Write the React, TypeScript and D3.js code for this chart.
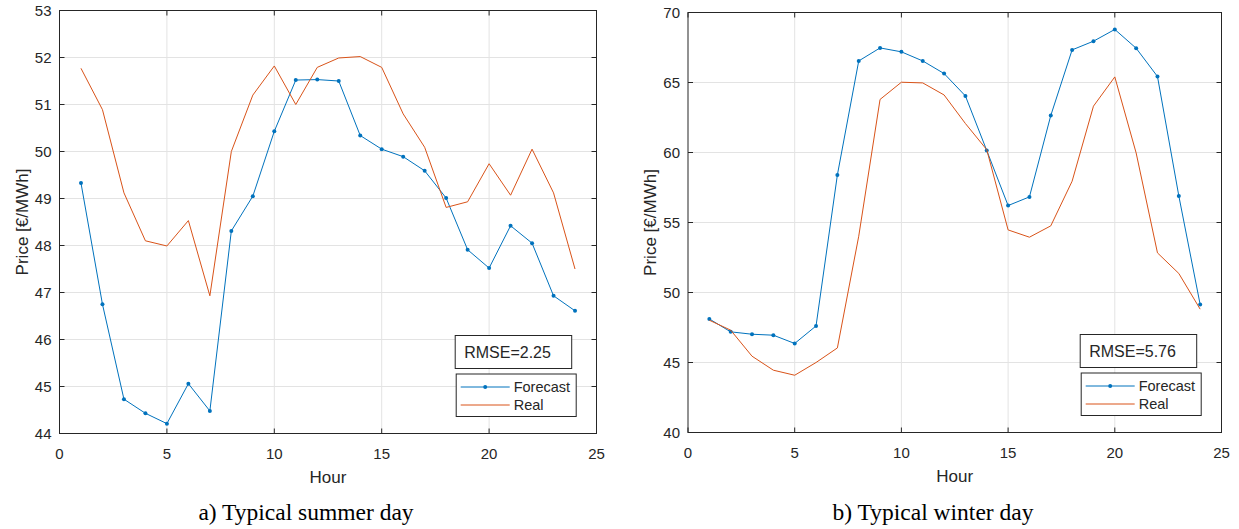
import React from "react";
import * as d3 from "d3";

const hours = d3.range(1, 25);

const summerForecast = [49.33, 46.75, 44.73, 44.43, 44.21, 45.06, 44.48, 48.31, 49.05, 50.43, 51.52, 51.53, 51.50, 50.34, 50.05, 49.89, 49.59, 49.01, 47.91, 47.52, 48.42, 48.05, 46.93, 46.61];
const summerReal = [51.77, 50.89, 49.12, 48.10, 47.99, 48.53, 46.93, 50.0, 51.20, 51.82, 51.0, 51.79, 51.99, 52.02, 51.79, 50.80, 50.09, 48.81, 48.93, 49.74, 49.07, 50.05, 49.12, 47.50];

const winterForecast = [48.11, 47.19, 47.02, 46.95, 46.36, 47.61, 58.4, 66.54, 67.47, 67.19, 66.54, 65.64, 64.04, 60.14, 56.21, 56.83, 62.64, 67.33, 67.95, 68.79, 67.45, 65.43, 56.90, 49.14];
const winterReal = [48.02, 47.31, 45.45, 44.45, 44.09, 45.0, 46.04, 54.02, 63.79, 65.02, 64.97, 64.11, 62.07, 60.2, 54.47, 53.95, 54.76, 57.95, 63.31, 65.40, 59.97, 52.83, 51.36, 48.81];

const xTicks = [0, 5, 10, 15, 20, 25];
const summerYTicks = [44, 45, 46, 47, 48, 49, 50, 51, 52, 53];
const winterYTicks = [40, 45, 50, 55, 60, 65, 70];

const seriesNames = ["Forecast", "Real"];
const captions = ["a) Typical summer day", "b) Typical winter day"];
const rmseLabels = ["RMSE=2.25", "RMSE=5.76"];

const BLUE = "#0072BD";
const ORANGE = "#D95319";
const AX = "#262626";
const GRID = "#e3e3e3";
const SANS = "'Liberation Sans', Arial, Helvetica, sans-serif";
const SERIF = "'Liberation Serif', 'Times New Roman', serif";

type PanelProps = {
  x0: number; x1: number; y0: number; y1: number;
  yDomain: [number, number]; yTicks: number[];
  forecast: number[]; real: number[];
  rmse: string; caption: string; captionX: number;
};

function Panel(p: PanelProps) {
  const x = d3.scaleLinear().domain([0, 25]).range([p.x0, p.x1]);
  const y = d3.scaleLinear().domain(p.yDomain).range([p.y1, p.y0]);
  const line = d3.line<number>().x((_, i) => x(hours[i])).y((v) => y(v));
  const tl = 5;
  const cx = (p.x0 + p.x1) / 2;
  const cy = (p.y0 + p.y1) / 2;
  // legend geometry relative to plot box
  const legR = p.x1 - 20.3;
  const legB = p.y1 - 17;
  const legW = 120;
  const legH = 42.5;
  const legL = legR - legW;
  const legT = legB - legH;
  const rmL = legL - 1;
  const rmW = 116.5;
  const rmB = legT - 5.5;
  const rmH = 33;
  const rmT = rmB - rmH;
  return (
    <g>
      {/* grid */}
      {xTicks.slice(1, -1).map((t) => (
        <line key={"gx" + t} x1={x(t)} x2={x(t)} y1={p.y0} y2={p.y1} stroke={GRID} strokeWidth={1} />
      ))}
      {p.yTicks.slice(1, -1).map((t) => (
        <line key={"gy" + t} x1={p.x0} x2={p.x1} y1={y(t)} y2={y(t)} stroke={GRID} strokeWidth={1} />
      ))}
      {/* ticks */}
      {xTicks.map((t) => (
        <g key={"tx" + t}>
          <line x1={x(t)} x2={x(t)} y1={p.y1} y2={p.y1 - tl} stroke={AX} />
          <line x1={x(t)} x2={x(t)} y1={p.y0} y2={p.y0 + tl} stroke={AX} />
          <text x={x(t)} y={p.y1 + 25} textAnchor="middle" fontFamily={SANS} fontSize={15} fill={AX}>{t}</text>
        </g>
      ))}
      {p.yTicks.map((t) => (
        <g key={"ty" + t}>
          <line x1={p.x0} x2={p.x0 + tl} y1={y(t)} y2={y(t)} stroke={AX} />
          <line x1={p.x1} x2={p.x1 - tl} y1={y(t)} y2={y(t)} stroke={AX} />
          <text x={p.x0 - 8} y={y(t)} dy="0.36em" textAnchor="end" fontFamily={SANS} fontSize={15} fill={AX}>{t}</text>
        </g>
      ))}
      {/* lines */}
      <path d={line(p.forecast) || ""} fill="none" stroke={BLUE} strokeWidth={1} />
      {p.forecast.map((v, i) => (
        <circle key={"m" + i} cx={x(hours[i])} cy={y(v)} r={2} fill={BLUE} />
      ))}
      <path d={line(p.real) || ""} fill="none" stroke={ORANGE} strokeWidth={1} />
      {/* box */}
      <rect x={p.x0} y={p.y0} width={p.x1 - p.x0} height={p.y1 - p.y0} fill="none" stroke={AX} strokeWidth={1} />
      {/* axis labels */}
      <text x={cx} y={p.y1 + 49} textAnchor="middle" fontFamily={SANS} fontSize={17} fill={AX}>Hour</text>
      <text transform={`translate(${p.x0 - 32},${cy}) rotate(-90)`} textAnchor="middle" fontFamily={SANS} fontSize={17} fill={AX}>Price [€/MWh]</text>
      {/* RMSE box */}
      <rect x={rmL} y={rmT} width={rmW} height={rmH} fill="#fff" stroke={AX} strokeWidth={1} />
      <text x={rmL + 9} y={rmT + 22} fontFamily={SANS} fontSize={16} fill={AX}>{p.rmse}</text>
      {/* legend */}
      <rect x={legL} y={legT} width={legW} height={legH} fill="#fff" stroke={AX} strokeWidth={1} />
      <line x1={legL + 4.5} x2={legL + 53.5} y1={legT + 13} y2={legT + 13} stroke={BLUE} strokeWidth={1} />
      <circle cx={legL + 29} cy={legT + 13} r={2} fill={BLUE} />
      <text x={legL + 57.5} y={legT + 18} fontFamily={SANS} fontSize={14.5} fill={AX}>{seriesNames[0]}</text>
      <line x1={legL + 4.5} x2={legL + 53.5} y1={legT + 31} y2={legT + 31} stroke={ORANGE} strokeWidth={1} />
      <text x={legL + 57.5} y={legT + 36} fontFamily={SANS} fontSize={14.5} fill={AX}>{seriesNames[1]}</text>
      {/* caption */}
      <text x={p.captionX} y={520} textAnchor="middle" fontFamily={SERIF} fontSize={23.5} fill="#000">{p.caption}</text>
    </g>
  );
}

export default function App() {
  return (
    <svg width={1239} height={529} style={{ position: "absolute", left: 0, top: 0, background: "#fff" }}>
      <rect x={0} y={0} width={1239} height={529} fill="#fff" />
      <Panel x0={59.5} x1={596.5} y0={10.5} y1={433.5} yDomain={[44, 53]} yTicks={summerYTicks}
        forecast={summerForecast} real={summerReal} rmse={rmseLabels[0]} caption={captions[0]} captionX={306} />
      <Panel x0={688} x1={1221.5} y0={12.5} y1={432.5} yDomain={[40, 70]} yTicks={winterYTicks}
        forecast={winterForecast} real={winterReal} rmse={rmseLabels[1]} caption={captions[1]} captionX={933} />
    </svg>
  );
}
